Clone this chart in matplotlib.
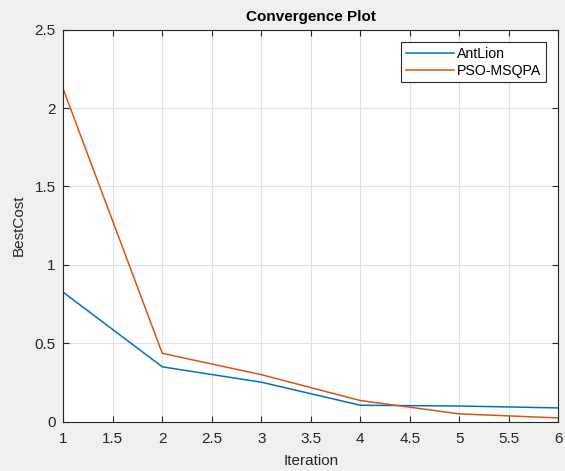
import matplotlib
matplotlib.use("Agg")
import matplotlib.pyplot as plt

plt.rcParams['font.family'] = ['Liberation Sans', 'DejaVu Sans']

iterations = [1, 2, 3, 4, 5, 6]
antlion = [0.825, 0.35, 0.252, 0.105, 0.10, 0.088]
pso_msqpa = [2.12, 0.436, 0.30, 0.135, 0.05, 0.024]
xticks = [1, 1.5, 2, 2.5, 3, 3.5, 4, 4.5, 5, 5.5, 6]
yticks = [0, 0.5, 1, 1.5, 2, 2.5]

fig = plt.figure(figsize=(5.65, 4.71), dpi=100, facecolor='#f0f0f0')
ax = fig.add_axes([63.3 / 565, 1 - 421.7 / 471, 495 / 565, 392 / 471])
ax.set_facecolor('white')

ax.plot(iterations, antlion, color=(0, 0.447, 0.741), lw=1.1, label='AntLion')
ax.plot(iterations, pso_msqpa, color=(0.85, 0.325, 0.098), lw=1.1, label='PSO-MSQPA')

ax.set_xlim(1, 6)
ax.set_ylim(0, 2.5)
ax.set_xticks(xticks)
ax.set_xticklabels([f'{t:g}' for t in xticks])
ax.set_yticks(yticks)
ax.set_yticklabels([f'{t:g}' for t in yticks])
ax.grid(True, color='#e0e0e0', lw=0.8)
ax.set_axisbelow(True)
ax.tick_params(direction='in', top=True, right=True, labelsize=11, colors='#262626', length=4)
ax.tick_params(axis='x', pad=7.5)
ax.tick_params(axis='y', pad=5.5)
for s in ax.spines.values():
    s.set_color('#262626')
    s.set_linewidth(0.8)

ax.set_title('Convergence Plot', fontsize=11, fontweight='bold', color='black', pad=6)
ax.set_xlabel('Iteration', fontsize=11, color='#262626', labelpad=5.5)
ax.set_ylabel('BestCost', fontsize=11, color='#262626', labelpad=6)

leg = ax.legend(loc='upper right', fontsize=10.2, fancybox=False, edgecolor='#262626',
                framealpha=1, handlelength=3.4, borderpad=0.35, labelspacing=0.2,
                handletextpad=0.2, borderaxespad=0.85)
leg.get_frame().set_linewidth(0.8)

fig.savefig('out.png', dpi=100, facecolor=fig.get_facecolor())
